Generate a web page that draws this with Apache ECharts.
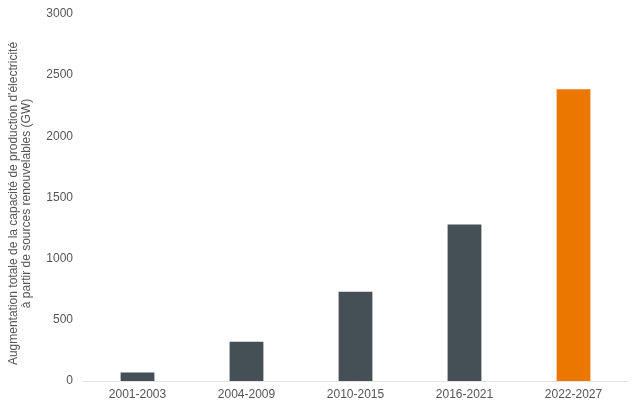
<!DOCTYPE html>
<html><head><meta charset="utf-8">
<script src="https://cdn.jsdelivr.net/npm/echarts@6/dist/echarts.min.js"></script>
<style>html,body{margin:0;padding:0;background:#fff}#c{width:640px;height:412px}</style>
</head><body><div id="c"></div>
<script>
const categories = ['2001-2003','2004-2009','2010-2015','2016-2021','2022-2027'];
const values = [70, 320, 730, 1280, 2385];
const highlightIndex = 4;
const yTicks = [0, 500, 1000, 1500, 2000, 2500, 3000];
const yName = "Augmentation totale de la capacité de production d'électricité\nà partir de sources renouvelables (GW)";

const chart = echarts.init(document.getElementById('c'), null, {renderer:'canvas'});
chart.setOption({
  animation:false,
  textStyle:{fontFamily:'"Liberation Sans", Arial, sans-serif'},
  grid:{left:83, right:12, top:14, bottom:31, containLabel:false, outerBoundsMode:'none'},
  xAxis:{type:'category', data:categories,
    axisLine:{lineStyle:{color:'#e3e3e3'}}, axisTick:{show:false},
    axisLabel:{color:'#555', fontSize:12, margin:8}},
  yAxis:{type:'value', min:yTicks[0], max:yTicks[yTicks.length-1], interval:500,
    splitLine:{show:false}, axisLine:{show:false}, axisTick:{show:false},
    axisLabel:{color:'#555', fontSize:12, margin:10, formatter: v => String(v)},
    name:yName, nameLocation:'middle', nameRotate:90, nameGap:50,
    nameTextStyle:{color:'#555', fontSize:12, lineHeight:13, padding:[0,12,0,0]}},
  series:[{type:'bar', barWidth:'31%',
    data: values.map((v,i)=>({value:v, itemStyle:{color: i===highlightIndex ? '#EC7700' : '#444F56'}}))}]
});
</script></body></html>
